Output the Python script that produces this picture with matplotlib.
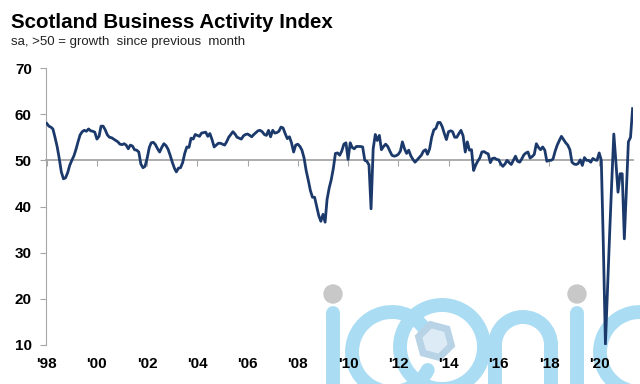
import matplotlib
matplotlib.use("Agg")
import matplotlib.pyplot as plt
from matplotlib import patches
from matplotlib.lines import Line2D
import numpy as np
import pandas as pd

plt.rcParams['font.family'] = ['Liberation Sans', 'DejaVu Sans']

title = "Scotland Business Activity Index"
subtitle = "sa, >50 = growth  since previous  month"

start_month = "1998-01-01"
# monthly index values, Jan 1998 .. May 2021
activity = [
    58.0, 57.4, 57.2, 56.8, 55.0, 53.0, 50.5, 47.5, 46.0, 46.2, 47.3, 48.9,  # 1998
    50.0, 51.0, 52.3, 54.0, 55.5, 56.2, 56.5, 56.3, 56.8, 56.4, 56.3, 56.1,  # 1999
    54.6, 55.2, 57.4, 57.4, 56.6, 55.5, 55.0, 54.9, 54.6, 54.3, 54.0, 53.5,  # 2000
    53.4, 53.6, 53.3, 52.5, 53.3, 53.1, 52.3, 52.2, 51.8, 49.2, 48.4, 48.7,  # 2001
    50.5, 52.8, 53.8, 53.9, 53.4, 52.5, 51.8, 52.8, 53.6, 53.2, 52.4, 51.1,  # 2002
    49.6, 48.3, 47.5, 48.3, 48.4, 49.5, 51.5, 52.9, 52.8, 54.8, 54.6, 55.6,  # 2003
    55.4, 55.2, 55.9, 56.0, 56.1, 55.2, 55.8, 54.5, 52.9, 53.3, 53.7, 53.7,  # 2004
    53.5, 53.3, 54.0, 55.0, 55.6, 56.2, 55.7, 55.0, 54.8, 54.6, 55.3, 55.6,  # 2005
    55.7, 55.4, 55.1, 55.6, 56.0, 56.4, 56.5, 56.2, 55.6, 55.4, 56.5, 55.1,  # 2006
    56.5, 55.9, 56.0, 56.3, 57.2, 57.0, 55.8, 54.7, 55.1, 53.8, 51.8, 53.3,  # 2007
    53.5, 53.0, 52.2, 50.5, 47.8, 45.7, 43.5, 42.0, 42.0, 40.0, 38.0, 36.8,  # 2008
    38.3, 36.6, 41.5, 44.0, 45.8, 48.3, 51.5, 51.6, 51.1, 52.0, 53.5, 53.8,  # 2009
    50.2, 53.8, 52.8, 52.5, 53.0, 53.0, 53.0, 52.9, 50.0, 49.8, 49.0, 39.5,  # 2010
    52.5, 55.6, 54.3, 55.4, 52.3, 53.0, 53.5, 53.0, 52.0, 51.1, 50.9, 51.0,  # 2011
    51.3, 52.0, 54.0, 52.5, 51.5, 52.2, 51.0, 50.2, 49.6, 50.1, 50.6, 51.1,  # 2012
    52.0, 52.3, 51.3, 52.5, 55.0, 56.6, 56.9, 58.2, 58.2, 57.3, 55.8, 54.5,  # 2013
    56.2, 56.4, 56.2, 55.0, 55.0, 55.8, 56.5, 55.3, 51.8, 54.0, 52.2, 52.3,  # 2014
    47.8, 49.0, 49.8, 50.5, 51.8, 51.9, 51.6, 51.4, 49.5, 50.4, 50.5, 50.2,  # 2015
    50.1, 49.2, 48.7, 49.2, 50.0, 49.5, 49.1, 50.0, 50.9, 49.8, 49.6, 50.3,  # 2016
    51.2, 51.6, 51.8, 50.5, 50.8, 51.3, 53.6, 52.8, 52.3, 52.9, 52.2, 49.8,  # 2017
    50.0, 50.0, 50.3, 52.0, 53.3, 54.3, 55.2, 54.5, 53.8, 53.3, 52.3, 49.6,  # 2018
    49.2, 49.1, 49.3, 50.1, 48.9, 50.6, 50.0, 50.0, 49.6, 50.4, 50.1, 50.0,  # 2019
    51.6, 50.0, 32.0, 10.2, 22.0, 34.0, 45.0, 55.7, 49.5, 43.1, 47.1, 47.1,  # 2020
    33.0, 44.0, 54.0, 55.0, 61.2,                                            # 2021
]
months = pd.date_range(start_month, periods=len(activity), freq="MS")

tick_years = list(range(1998, 2021, 2))
tick_labels = ["'%02d" % (y % 100) for y in tick_years]
tick_dates = pd.to_datetime(["%d-01-01" % y for y in tick_years])
y_ticks = [10, 20, 30, 40, 50, 60, 70]

line_color = "#1B3A6B"
axis_grey = "#A6A6A6"
wm_blue = "#AADCF3"
wm_grey = "#C8C8C8"

W, H = 640, 384
fig = plt.figure(figsize=(W / 100, H / 100), dpi=100)


def fx(x):
    return x / W


def fy(y):
    return 1 - y / H


# watermark, drawn under the chart
def stem(x, y0, y1):
    fig.add_artist(Line2D([fx(x), fx(x)], [fy(y0), fy(y1)], transform=fig.transFigure,
                          lw=10, color=wm_blue, solid_capstyle='round', zorder=-2))


def arc(cx, cy, r, t1, t2):
    fig.add_artist(patches.Arc((fx(cx), fy(cy)), 2 * r / W, 2 * r / H, theta1=t1, theta2=t2,
                               lw=10, color=wm_blue, capstyle='round',
                               transform=fig.transFigure, zorder=-2))


def dot(cx, cy, r):
    fig.add_artist(patches.Ellipse((fx(cx), fy(cy)), 2 * r / W, 2 * r / H, color=wm_grey,
                                   transform=fig.transFigure, zorder=-2))


stem(333, 313, 400)
dot(333, 294, 9)
arc(392, 352, 40, 40, 320)
arc(442, 347, 42, 0, 360)
ang = np.radians(np.arange(6) * 60 + 15)
hexagon = [(fx(435 + 17 * np.cos(a)), fy(341 + 17 * np.sin(a))) for a in ang]
fig.add_artist(patches.Polygon(hexagon, closed=True, facecolor="#DCEBF5", edgecolor="#B9D3E6",
                               lw=5, transform=fig.transFigure, zorder=-2))
stem(495, 345, 400)
arc(523, 345, 28, 0, 180)
stem(551, 345, 400)
stem(577, 313, 400)
dot(577, 294, 9)
arc(640, 352, 40, 40, 320)

ax = fig.add_axes([45.7 / W, 39 / H, 587.3 / W, 277 / H])
ax.patch.set_visible(False)
ax.plot(months, activity, color=line_color, lw=2.0, zorder=4, solid_joinstyle='round')

ax.set_ylim(10, 70)
ax.set_xlim(months[0] - pd.Timedelta(days=15), months[-1] + pd.Timedelta(days=6))
ax.set_yticks(y_ticks)
ax.set_xticks(tick_dates)

for side in ['top', 'right']:
    ax.spines[side].set_visible(False)
ax.spines['left'].set_color(axis_grey)
ax.spines['bottom'].set_position(('data', 50))
ax.spines['bottom'].set_color(axis_grey)
ax.spines['bottom'].set_linewidth(1.3)

ax.tick_params(axis='y', length=4, color=axis_grey, labelsize=11, pad=6)
ax.tick_params(axis='x', length=4, color=axis_grey, labelbottom=False)
for lab in ax.get_yticklabels():
    lab.set_fontweight('bold')

for d, lab in zip(tick_dates, tick_labels):
    ax.text(d, -0.07, lab, transform=ax.get_xaxis_transform(), ha='center', va='center',
            fontsize=11, fontweight='bold')

fig.text(11 / W, fy(28), title, fontsize=14.8, fontweight='bold', va='baseline')
fig.text(11 / W, fy(45), subtitle, fontsize=9.5, va='baseline', color="#222222")

fig.savefig("out.png", dpi=100)
